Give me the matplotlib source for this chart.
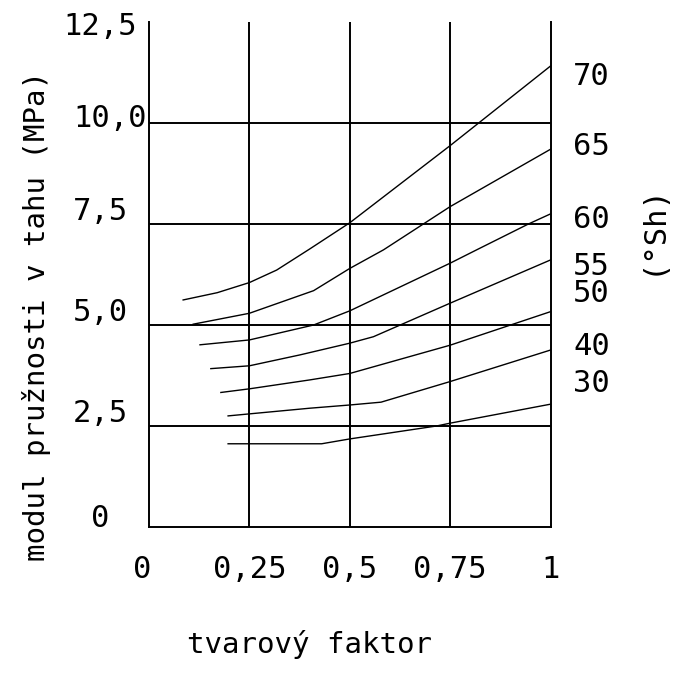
import matplotlib
matplotlib.use("Agg")
import matplotlib.pyplot as plt

plt.rcParams['font.family'] = ['DejaVu Sans Mono', 'DejaVu Sans']

# Shore hardness curves: tvarový faktor (x) vs modul pružnosti v tahu (y)
hardness = ["70", "65", "60", "55", "50", "40", "30"]
x70 = [0.085, 0.17, 0.25, 0.318, 0.40, 0.50, 0.75, 1.00]
y70 = [5.62, 5.80, 6.05, 6.36, 6.88, 7.53, 9.44, 11.41]
x65 = [0.11, 0.25, 0.41, 0.50, 0.584, 0.75, 1.00]
y65 = [5.02, 5.29, 5.85, 6.40, 6.86, 7.93, 9.35]
x60 = [0.127, 0.25, 0.41, 0.50, 0.75, 0.816, 0.945, 1.00]
y60 = [4.51, 4.63, 5.00, 5.35, 6.53, 6.86, 7.50, 7.75]
x55 = [0.154, 0.25, 0.376, 0.50, 0.559, 0.75, 1.00]
y55 = [3.92, 3.99, 4.26, 4.55, 4.71, 5.54, 6.61]
x50 = [0.179, 0.25, 0.40, 0.50, 0.75, 1.00]
y50 = [3.33, 3.42, 3.64, 3.80, 4.50, 5.33]
x40 = [0.197, 0.25, 0.40, 0.50, 0.578, 0.75, 1.00]
y40 = [2.75, 2.80, 2.94, 3.02, 3.09, 3.60, 4.38]
x30 = [0.197, 0.43, 0.50, 0.716, 0.75, 1.00]
y30 = [2.06, 2.06, 2.18, 2.50, 2.57, 3.04]

# label positions (data y) of the hardness labels on the right
label_y = [11.16, 9.43, 7.62, 6.46, 5.77, 4.46, 3.56]

xticks = [0, 0.25, 0.5, 0.75, 1.0]
xtick_labels = ["0", "0,25", "0,5", "0,75", "1"]
yticks = [0, 2.5, 5.0, 7.5, 10.0, 12.5]
ytick_labels = ["0", "2,5", "5,0", "7,5", "10,0", "12,5"]
ytick_text_y = [0.22, 2.82, 5.32, 7.80, 10.12, 12.40]

curves = [(x70, y70), (x65, y65), (x60, y60), (x55, y55),
          (x50, y50), (x40, y40), (x30, y30)]

fig = plt.figure(figsize=(6.73, 6.73), dpi=100)
ax = fig.add_axes([149/673, 146/673, 401.5/673, 505/673])
ax.set_xlim(0, 1)
ax.set_ylim(0, 12.5)

# grid
for gx in xticks[1:-1]:
    ax.axvline(gx, color='black', lw=1.4, zorder=1)
for gy in yticks[1:-1]:
    ax.axhline(gy, color='black', lw=1.4, zorder=1)

for xs, ys in curves:
    ax.plot(xs, ys, color='black', lw=1.0, zorder=2)

for s in ['left', 'right', 'bottom']:
    ax.spines[s].set_linewidth(1.4)
ax.spines['top'].set_visible(False)
ax.set_xticks([])
ax.set_yticks([])

tick_fs = 22
# y tick labels
for lab, ty in zip(ytick_labels, ytick_text_y):
    xpos = -0.097 if lab == "10,0" else -0.122
    ax.text(xpos, ty, lab, transform=ax.get_yaxis_transform(),
            ha='center', va='center', fontsize=tick_fs, clip_on=False)
# x tick labels
for lab, tx in zip(xtick_labels, xticks):
    off = -0.017 if lab == "0" else 0.0
    ax.text(tx + off, -0.085, lab, transform=ax.get_xaxis_transform(),
            ha='center', va='center', fontsize=tick_fs, clip_on=False)

# hardness labels on the right
for lab, ly in zip(hardness, label_y):
    ax.text(1.056, ly, lab, transform=ax.get_yaxis_transform(),
            ha='left', va='center', fontsize=tick_fs, clip_on=False)

ax.text(1.253, 0.590, "(°Sh)", transform=ax.transAxes, rotation=90,
        ha='center', va='center', fontsize=tick_fs, clip_on=False)

ax.text(0.40, -0.2495, "tvarový faktor", transform=ax.transAxes,
        ha='center', va='baseline', fontsize=21, clip_on=False)
ax.text(-0.279, 0.418, "modul pružnosti v tahu (MPa)", transform=ax.transAxes,
        rotation=90, ha='center', va='center', fontsize=21, clip_on=False)

fig.savefig("out.png", dpi=100, facecolor='white')
